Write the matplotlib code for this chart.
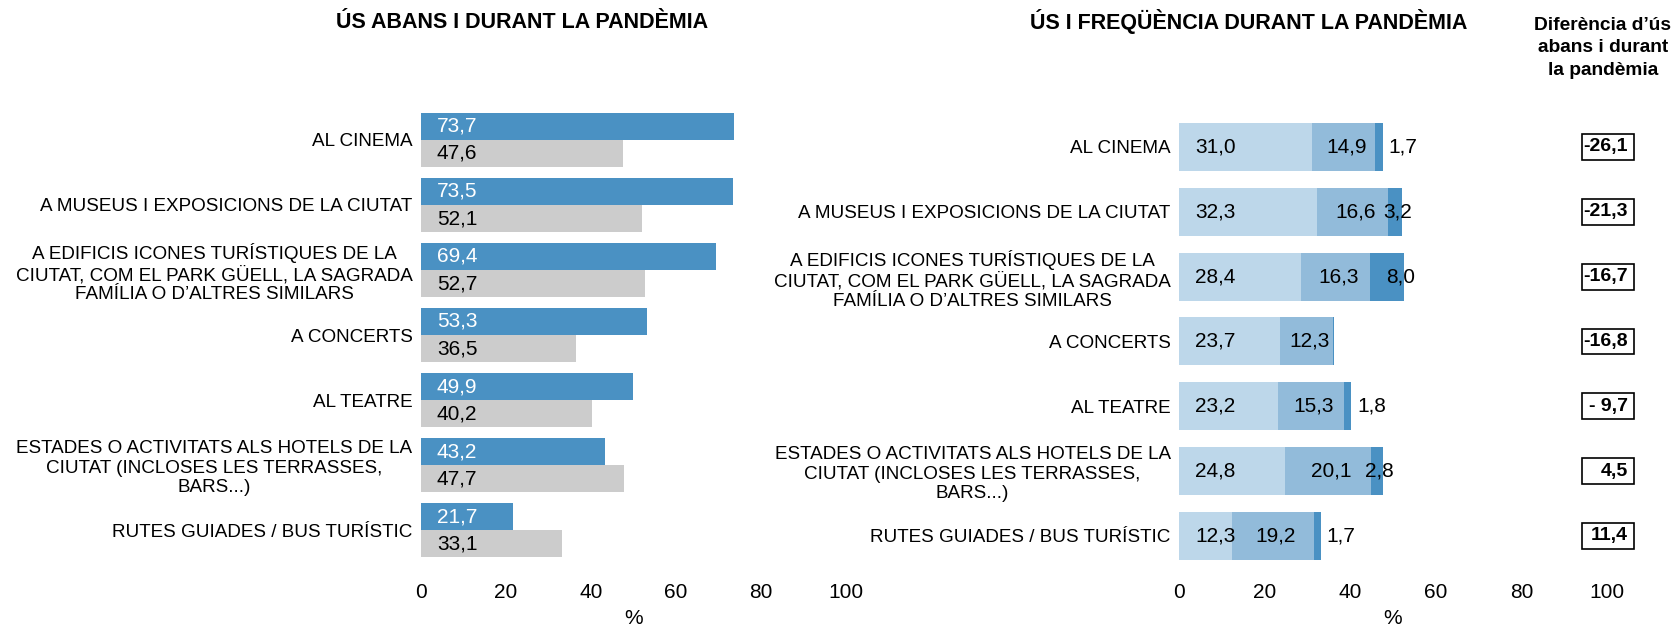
import matplotlib
matplotlib.use("Agg")
import matplotlib.pyplot as plt
from matplotlib.patches import Rectangle
import numpy as np

plt.rcParams['font.family'] = ['Liberation Sans', 'DejaVu Sans']

categories = [
    "AL CINEMA",
    "A MUSEUS I EXPOSICIONS DE LA CIUTAT",
    "A EDIFICIS ICONES TURÍSTIQUES DE LA\nCIUTAT, COM EL PARK GÜELL, LA SAGRADA\nFAMÍLIA O D’ALTRES SIMILARS",
    "A CONCERTS",
    "AL TEATRE",
    "ESTADES O ACTIVITATS ALS HOTELS DE LA\nCIUTAT (INCLOSES LES TERRASSES,\nBARS...)",
    "RUTES GUIADES / BUS TURÍSTIC",
]
abans = [73.7, 73.5, 69.4, 53.3, 49.9, 43.2, 21.7]
durant = [47.6, 52.1, 52.7, 36.5, 40.2, 47.7, 33.1]

freq_1 = [31.0, 32.3, 28.4, 23.7, 23.2, 24.8, 12.3]
freq_2 = [14.9, 16.6, 16.3, 12.3, 15.3, 20.1, 19.2]
freq_3 = [1.7, 3.2, 8.0, 0.3, 1.8, 2.8, 1.7]

diferencia = [-26.1, -21.3, -16.7, -16.8, -9.7, 4.5, 11.4]

blue = '#4a91c3'
grey = '#cccccc'
light = '#bdd7ea'
mid = '#92bbda'


def fmt(v):
    return f"{v:.1f}".replace('.', ',')


def fmt_diff(v):
    if -10 < v < 0:
        return "- " + fmt(abs(v))
    return fmt(v)


fig = plt.figure(figsize=(16.73, 6.30), dpi=100)
y = np.arange(len(categories))

# left panel
ax1 = fig.add_axes([0.2516, 0.0905, 0.2540, 0.7508])
ax1.barh(y - 0.208, abans, height=0.415, color=blue)
ax1.barh(y + 0.208, durant, height=0.415, color=grey)
for i in range(len(categories)):
    ax1.annotate(fmt(abans[i]), (0, y[i] - 0.208), xytext=(11.5, 0),
                 textcoords='offset points', va='center', ha='left',
                 fontsize=15, color='white')
    ax1.annotate(fmt(durant[i]), (0, y[i] + 0.208), xytext=(11.5, 0),
                 textcoords='offset points', va='center', ha='left',
                 fontsize=15, color='black')
ax1.set_ylim(6.66, -0.615)

# right panel
ax2 = fig.add_axes([0.7047, 0.0905, 0.2558, 0.7508])
f1 = np.array(freq_1)
f2 = np.array(freq_2)
f3 = np.array(freq_3)
ax2.barh(y, f1, height=0.74, color=light)
ax2.barh(y, f2, left=f1, height=0.74, color=mid)
ax2.barh(y, f3, left=f1 + f2, height=0.74, color=blue)
for i in range(len(categories)):
    ax2.annotate(fmt(f1[i]), (0, y[i]), xytext=(11.5, 0),
                 textcoords='offset points', va='center', ha='left', fontsize=15)
    ax2.annotate(fmt(f2[i]), (f1[i] + f2[i] / 2, y[i]), xytext=(2, 0),
                 textcoords='offset points', va='center', ha='center', fontsize=15)
    end = f1[i] + f2[i] + f3[i]
    if f3[i] < 0.5:
        continue
    if f3[i] < 2.5:
        ax2.annotate(fmt(f3[i]), (end, y[i]), xytext=(4, 0),
                     textcoords='offset points', va='center', ha='left', fontsize=15)
    else:
        ax2.annotate(fmt(f3[i]), (end, y[i]), xytext=(-3, 0),
                     textcoords='offset points', va='center', ha='center', fontsize=15)
ax2.set_ylim(6.571, -0.725)

# difference boxes
for i, d in enumerate(diferencia):
    ax2.add_patch(Rectangle((94.2, y[i] - 0.2), 12.1, 0.4, fill=False,
                            edgecolor='black', linewidth=1.2, clip_on=False))
    ax2.text(104.9, y[i], fmt_diff(d), ha='right', va='center',
             fontsize=14, fontweight='bold')

for ax in (ax1, ax2):
    ax.set_xlim(0, 100)
    ax.set_xticks([0, 20, 40, 60, 80, 100])
    ax.set_yticks(y)
    ax.set_yticklabels(categories, fontsize=13.6, linespacing=1.18)
    for lbl in ax.get_yticklabels():
        lbl.set_multialignment('center')
    ax.tick_params(axis='both', length=0)
    ax.tick_params(axis='y', pad=6)
    ax.tick_params(axis='x', labelsize=15, pad=7)
    ax.set_xlabel('%', fontsize=15, labelpad=5)
    for s in ax.spines.values():
        s.set_visible(False)

fig.text(522 / 1673, 1 - 23 / 630, 'ÚS ABANS I DURANT LA PANDÈMIA',
         ha='center', va='center', fontsize=15.5, fontweight='bold')
fig.text(1249 / 1673, 1 - 22 / 630, 'ÚS I FREQÜÈNCIA DURANT LA PANDÈMIA',
         ha='center', va='center', fontsize=15.5, fontweight='bold')
fig.text(1603 / 1673, 1 - 48 / 630, 'Diferència d’ús\nabans i durant\nla pandèmia',
         ha='center', va='center', fontsize=13.8, fontweight='bold',
         multialignment='center', linespacing=1.45)

fig.savefig('out.png', dpi=100)
